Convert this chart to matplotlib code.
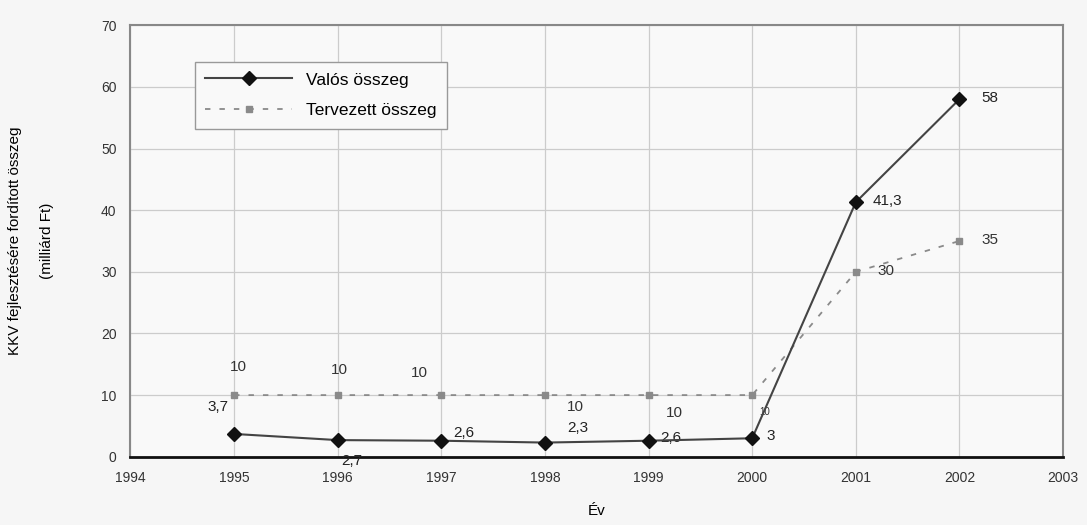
import matplotlib.pyplot as plt

years = [1995, 1996, 1997, 1998, 1999, 2000, 2001, 2002]
valos = [3.7, 2.7, 2.6, 2.3, 2.6, 3, 41.3, 58]
tervezett = [10, 10, 10, 10, 10, 10, 30, 35]
valos_labels = ["3,7", "2,7", "2,6", "2,3", "2,6", "3", "41,3", "58"]
tervezett_labels = ["10", "10", "10", "10", "10", "10", "30", "35"]
x_ticks = list(range(1994, 2004))
y_ticks = list(range(0, 80, 10))

# label offsets in pixels
valos_off = [(-16, 27), (14, -21), (22, 8), (33, 15), (22, 3), (18, 2), (32, 1), (30, 1)]
terv_off = [(4, 28), (2, 25), (-22, 22), (30, -12), (26, -18), (12, -17), (30, 1), (30, 1)]
terv_size = [11, 11, 11, 11, 11, 7, 11, 11]

plt.rcParams['font.family'] = ['Liberation Sans', 'DejaVu Sans']

fig = plt.figure(figsize=(10.87, 5.25), dpi=100, facecolor='#f6f6f6')
ax = fig.add_axes([0.12, 0.13, 0.858, 0.822])
ax.set_facecolor('#f9f9f9')

ax.plot(years, tervezett, color='#8a8a8a', linestyle=(0, (3, 5)), linewidth=1.3,
        marker='s', markersize=5, markerfacecolor='#8a8a8a', markeredgecolor='#8a8a8a',
        label='Tervezett összeg', zorder=3)
ax.plot(years, valos, color='#444444', linewidth=1.5,
        marker='D', markersize=7, markerfacecolor='#111111', markeredgecolor='#111111',
        label='Valós összeg', zorder=4)

for x, y, t, o in zip(years, valos, valos_labels, valos_off):
    ax.annotate(t, (x, y), xytext=o, textcoords='offset pixels',
                ha='center', va='center', fontsize=11, color='#222222')
for x, y, t, o, s in zip(years, tervezett, tervezett_labels, terv_off, terv_size):
    ax.annotate(t, (x, y), xytext=o, textcoords='offset pixels',
                ha='center', va='center', fontsize=s, color='#333333')

ax.set_xlim(1994, 2003)
ax.set_ylim(0, 70)
ax.set_xticks(x_ticks)
ax.set_yticks(y_ticks)
ax.tick_params(axis='both', labelsize=10, colors='#333333', length=0, pad=10)
ax.grid(True, color='#cccccc', linewidth=0.9)
ax.set_axisbelow(True)

for s in ['top', 'right', 'left']:
    ax.spines[s].set_color('#888888')
    ax.spines[s].set_linewidth(1.5)
ax.spines['bottom'].set_color('#111111')
ax.spines['bottom'].set_linewidth(2)

ax.set_xlabel('Év', fontsize=11, labelpad=14)
ax.set_ylabel('KKV fejlesztésére fordított összeg\n(milliárd Ft)', fontsize=11,
              labelpad=34, linespacing=2.6)

handles, labels = ax.get_legend_handles_labels()
leg = ax.legend(handles[::-1], labels[::-1], loc='upper left', bbox_to_anchor=(0.06, 0.935),
                fontsize=12.5, frameon=True, fancybox=False, edgecolor='#999999',
                facecolor='#f9f9f9', framealpha=1, handlelength=5, labelspacing=0.9,
                borderpad=0.6)

fig.savefig('out.png', dpi=100, facecolor=fig.get_facecolor())
